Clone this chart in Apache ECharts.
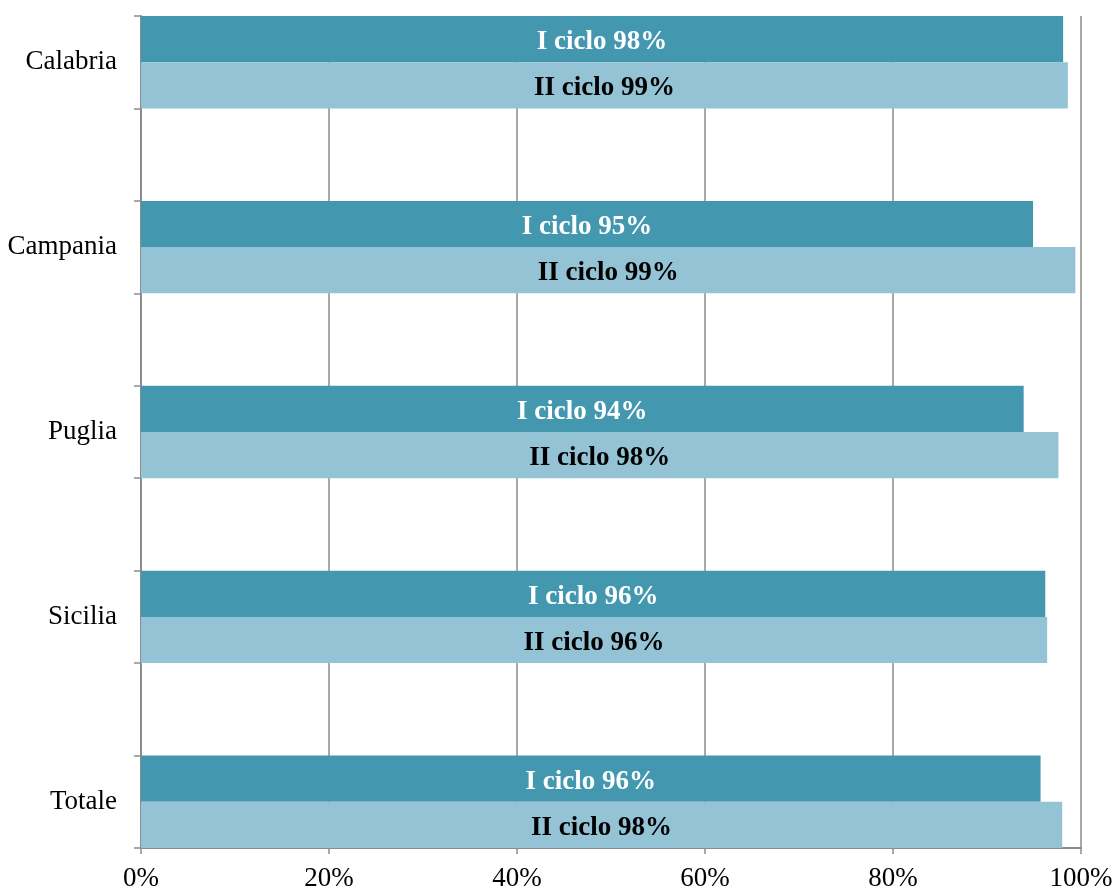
<!DOCTYPE html>
<html>
<head>
<meta charset="utf-8">
<script src="https://cdn.jsdelivr.net/npm/echarts@6/dist/echarts.min.js"></script>
<style>
  html, body { margin: 0; padding: 0; background: #ffffff; }
  #chart { width: 1116px; height: 891px; }
</style>
</head>
<body>
<div id="chart"></div>
<script>
// Regions, top to bottom
const regions = ['Calabria', 'Campania', 'Puglia', 'Sicilia', 'Totale'];
// Share (%) per cycle
const cycleOne = [98.1, 94.9, 93.9, 96.2, 95.7];
const cycleTwo = [98.6, 99.4, 97.6, 96.4, 98.0];
const seriesNames = ['I ciclo', 'II ciclo'];
const xTicks = [0, 20, 40, 60, 80, 100];

// Empty spacer rows sit between regions
const categories = [];
const dataOne = [];
const dataTwo = [];
regions.forEach((r, i) => {
  if (i > 0) { categories.push(' '.repeat(i)); dataOne.push('-'); dataTwo.push('-'); }
  categories.push(r);
  dataOne.push(cycleOne[i]);
  dataTwo.push(cycleTwo[i]);
});

const serif = '"Liberation Serif", "DejaVu Serif", serif';
const gridGray = '#8c8c8c';

const chart = echarts.init(document.getElementById('chart'), null, { renderer: 'canvas' });

function labelFor(name) {
  return function (p) { return name + ' ' + Math.round(p.value) + '%'; };
}

chart.setOption({
  animation: false,
  backgroundColor: '#ffffff',
  grid: { left: 141, right: 35, top: 16, bottom: 43, containLabel: false, outerBoundsMode: 'none' },
  xAxis: {
    type: 'value',
    min: xTicks[0],
    max: xTicks[xTicks.length - 1],
    interval: 20,
    axisLine: { show: true, lineStyle: { color: gridGray, width: 2 } },
    axisTick: { show: true, length: 6, lineStyle: { color: gridGray, width: 1.5 } },
    splitLine: { show: true, lineStyle: { color: gridGray, width: 1.5 } },
    axisLabel: {
      margin: 17,
      color: '#000000',
      fontFamily: serif,
      fontSize: 27,
      formatter: v => v + '%'
    }
  },
  yAxis: {
    type: 'category',
    inverse: true,
    data: categories,
    axisLine: { show: true, lineStyle: { color: gridGray, width: 2 } },
    axisTick: { show: true, length: 7, lineStyle: { color: gridGray, width: 1.5 } },
    axisLabel: {
      margin: 24,
      color: '#000000',
      fontFamily: serif,
      fontSize: 27,
      padding: [8, 0, 0, 0]
    }
  },
  series: [
    {
      name: seriesNames[0],
      type: 'bar',
      data: dataOne,
      barGap: '0%',
      barCategoryGap: '0%',
      itemStyle: { color: '#4398b0' },
      label: {
        show: true,
        position: 'inside',
        offset: [0, 3],
        color: '#ffffff',
        fontFamily: serif,
        fontWeight: 'bold',
        fontSize: 27,
        formatter: labelFor(seriesNames[0])
      }
    },
    {
      name: seriesNames[1],
      type: 'bar',
      data: dataTwo,
      barGap: '0%',
      barCategoryGap: '0%',
      itemStyle: { color: '#93c3d4' },
      label: {
        show: true,
        position: 'inside',
        offset: [0, 3],
        color: '#000000',
        fontFamily: serif,
        fontWeight: 'bold',
        fontSize: 27,
        formatter: labelFor(seriesNames[1])
      }
    }
  ]
});
</script>
</body>
</html>
